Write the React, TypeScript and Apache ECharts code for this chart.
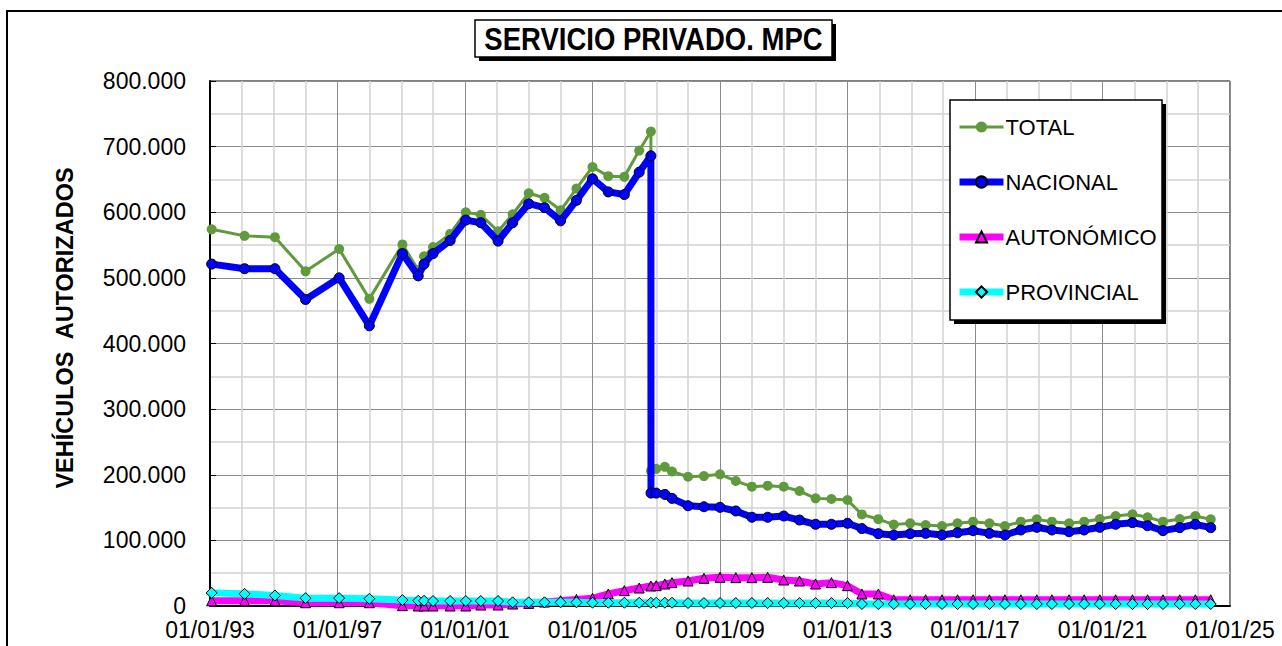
import React, { useEffect, useRef } from "react";
import * as echarts from "echarts";

// Observation dates (x positions)
const DATES: string[] = [
  "1993-01-20", "1994-02-01", "1995-01-15", "1996-01-01", "1997-01-20", "1998-01-01",
  "1999-01-15", "1999-07-15", "1999-09-20", "2000-01-01", "2000-07-15", "2001-01-10",
  "2001-07-01", "2002-01-15", "2002-07-01", "2003-01-01", "2003-07-01", "2004-01-01",
  "2004-07-01", "2005-01-01", "2005-07-01", "2006-01-01", "2006-06-20", "2006-11-01",
  "2006-11-02", "2007-01-01", "2007-04-10", "2007-07-01",
  "2008-01-01", "2008-07-01", "2009-01-01", "2009-07-01", "2010-01-01", "2010-07-01",
  "2011-01-01", "2011-07-01", "2012-01-01", "2012-07-01", "2013-01-01",
  "2013-06-15", "2013-12-20", "2014-06-15", "2014-12-20", "2015-06-15", "2015-12-20",
  "2016-06-15", "2016-12-10", "2017-06-15", "2017-12-10", "2018-06-10", "2018-12-10",
  "2019-06-01", "2019-12-15", "2020-06-05", "2020-12-01", "2021-06-01", "2021-12-10",
  "2022-06-01", "2022-11-25", "2023-06-05", "2023-12-01", "2024-05-25",
];

// Values in thousands of vehicles
const TOTAL: (number | null)[] = [
  574, 564, 562, 510, 544, 468,
  551, 512, 533, 547, 567, 600,
  596, 571, 597, 629, 622, 603,
  636, 669, 655, 654, 694, 723,
  206, 209, 212, 205,
  197, 198, 200.6, 190.5, 181.8, 183.4,
  181.8, 175.2, 164, 163, 161.5,
  139.5, 132.3, 124, 126, 123.4, 121.9,
  126, 128.5, 126, 121.9, 128.5, 132,
  128.5, 126, 128.5, 132.6, 137.1, 139.7,
  135.2, 128.5, 132.6, 137.1, 132,
];

const NACIONAL: (number | null)[] = [
  521, 514, 514, 467, 500, 427,
  537, 503, 521, 537, 557, 588,
  584, 556, 584, 613, 607, 587,
  618, 651, 631, 627, 661, 686,
  172, 172, 170, 164,
  152.8, 151.3, 150.4, 144.8, 135.2, 135.2,
  137.1, 131, 124.5, 124.5, 126,
  118, 110.2, 108.2, 110.2, 110.7, 108.2,
  111.7, 114.8, 110.7, 108.2, 115.8, 119.9,
  115.8, 113.2, 115.8, 119.9, 124.5, 127,
  122.4, 114.8, 119.4, 124.5, 119.4,
];

const AUTONOMICO: (number | null)[] = [
  8, 8, 8, 5, 5, 5,
  0.5, 0, 0, 0, 0, 0,
  1.5, 1.5, 3, 4, 6, 8,
  10, 11.7, 18.3, 23.4, 27.4, 30.5,
  null, 31, 33.5, 35.6,
  38.1, 42.2, 43.7, 43.2, 43.2, 43.7,
  39.6, 38.1, 33.5, 35.6, 31,
  18.3, 18.3, 9.5, 9.5, 9.5, 9.5,
  9.5, 9.5, 9.5, 9.5, 9.5, 9.5,
  9.5, 9.5, 9.5, 9.5, 9.5, 9.5,
  9.5, 9.5, 9.5, 9.5, 9.5,
];

const PROVINCIAL: (number | null)[] = [
  20, 18.5, 16, 12, 12, 11,
  9, 8, 8, 7.6, 7.6, 7.6,
  7.6, 7.6, 5.6, 5.6, 5.6, 5.6,
  5.6, 5, 5, 5, 5, 5,
  null, 5, 5, 5,
  4.5, 4.5, 4.5, 4.5, 4.5, 4.5,
  4.5, 4.5, 4.5, 4.5, 4.5,
  3, 3, 3, 3, 3, 3,
  3, 3, 3, 3, 3, 3,
  3, 3, 3, 3, 3, 3,
  3, 3, 3, 3, 3,
];

const SERIES_NAMES = ["TOTAL", "NACIONAL", "AUTONÓMICO", "PROVINCIAL"];
const START_YEAR = 1993;
const END_YEAR = 2025;
const TITLE = "SERVICIO PRIVADO. MPC";
const Y_NAME = "VEHÍCULOS  AUTORIZADOS";

const FONT = "Arial, 'Liberation Sans', sans-serif";

function yearsSinceStart(d: string): number {
  const [y, m, dd] = d.split("-").map(Number);
  const t = Date.UTC(y, m - 1, dd);
  const t0 = Date.UTC(START_YEAR, 0, 1);
  return (t - t0) / (365.25 * 86400000);
}

function toData(vals: (number | null)[]) {
  const out: [number, number][] = [];
  vals.forEach((v, i) => {
    if (v !== null) out.push([yearsSinceStart(DATES[i]), v * 1000]);
  });
  return out;
}

function fmtThousands(v: number): string {
  if (v === 0) return "0";
  const s = Math.round(v).toString();
  return s.replace(/\B(?=(\d{3})+(?!\d))/g, ".");
}

export default function App() {
  const ref = useRef<HTMLDivElement>(null);
  useEffect(() => {
    if (!ref.current) return;
    const chart = echarts.init(ref.current, undefined, { renderer: "svg" });
    const option: any = {
      animation: false,
      backgroundColor: "#ffffff",
      textStyle: { fontFamily: FONT },
      grid: {
        left: 210,
        right: 52,
        top: 81,
        bottom: 40,
        show: true,
        borderColor: "#000",
        borderWidth: 1,
        backgroundColor: "transparent",
      },
      xAxis: {
        type: "value",
        min: 0,
        max: END_YEAR - START_YEAR,
        interval: 4,
        axisLine: { show: true, onZero: false, lineStyle: { color: "#000", width: 2 } },
        axisTick: { show: false },
        axisLabel: {
          color: "#000",
          fontSize: 23,
          fontFamily: FONT,
          margin: 12,
          formatter: (v: number) =>
            "01/01/" + String((START_YEAR + Math.round(v)) % 100).padStart(2, "0"),
        },
        splitLine: { show: true, lineStyle: { color: "#8c8c8c", width: 1 } },
        minorTick: { show: false, splitNumber: 4 },
        minorSplitLine: { show: true, lineStyle: { color: "#d2d2d2", width: 1.5 } },
      },
      yAxis: {
        type: "value",
        min: 0,
        max: 800000,
        interval: 100000,
        axisLine: { show: true, lineStyle: { color: "#000", width: 2 } },
        axisTick: { show: true, inside: true, length: 6, lineStyle: { color: "#000", width: 1 } },
        axisLabel: {
          color: "#000",
          fontSize: 23,
          fontFamily: FONT,
          margin: 24,
          formatter: (v: number) => fmtThousands(v),
        },
        splitLine: { show: true, lineStyle: { color: "#8c8c8c", width: 1 } },
        minorTick: { show: false, splitNumber: 2 },
        minorSplitLine: { show: true, lineStyle: { color: "#d2d2d2", width: 1.5 } },
      },
      legend: {
        orient: "vertical",
        left: 956,
        top: 116,
        padding: 0,
        itemWidth: 44,
        itemHeight: 14,
        itemGap: 33,
        z: 10,
        textStyle: { color: "#000", fontSize: 22, lineHeight: 22, fontFamily: FONT, padding: [0, 0, 0, -3] },
        data: [
          { name: SERIES_NAMES[0], lineStyle: { width: 3 } },
          { name: SERIES_NAMES[1], lineStyle: { width: 7 } },
          { name: SERIES_NAMES[2], lineStyle: { width: 7 } },
          { name: SERIES_NAMES[3], lineStyle: { width: 7 } },
        ],
      },
      series: [
        {
          name: SERIES_NAMES[0],
          type: "line",
          data: toData(TOTAL),
          symbol: "circle",
          symbolSize: 10,
          lineStyle: { color: "#5f9a3c", width: 3 },
          itemStyle: { color: "#5f9a3c", borderWidth: 0 },
          z: 2,
        },
        {
          name: SERIES_NAMES[1],
          type: "line",
          data: toData(NACIONAL),
          symbol: "circle",
          symbolSize: 10,
          lineStyle: { color: "#0000ff", width: 7 },
          itemStyle: { color: "#0000ff", borderColor: "#000", borderWidth: 1 },
          z: 3,
        },
        {
          name: SERIES_NAMES[2],
          type: "line",
          data: toData(AUTONOMICO),
          symbol: "triangle",
          symbolSize: 10,
          lineStyle: { color: "#ff00ff", width: 7 },
          itemStyle: { color: "#ff00ff", borderColor: "#000", borderWidth: 1 },
          z: 4,
        },
        {
          name: SERIES_NAMES[3],
          type: "line",
          data: toData(PROVINCIAL),
          symbol: "diamond",
          symbolSize: 11,
          lineStyle: { color: "#00ffff", width: 7 },
          itemStyle: { color: "#00ffff", borderColor: "#000", borderWidth: 1 },
          z: 5,
        },
      ],
      graphic: [
        {
          type: "rect",
          z: 0,
          silent: true,
          shape: { x: 7, y: 11, width: 1400, height: 800 },
          style: { fill: "none", stroke: "#000", lineWidth: 2 },
        },
        {
          type: "rect",
          z: 20,
          shape: { x: 479, y: 24, width: 357, height: 37 },
          style: { fill: "#000" },
        },
        {
          type: "rect",
          z: 21,
          shape: { x: 475, y: 20, width: 357, height: 37 },
          style: { fill: "#fff", stroke: "#000", lineWidth: 1.5 },
        },
        {
          type: "text",
          z: 22,
          x: 653.5,
          y: 39,
          scaleX: 0.86,
          style: {
            text: TITLE,
            fill: "#000",
            font: "bold 32px " + FONT,
            textAlign: "center",
            textVerticalAlign: "middle",
          },
        },
        {
          type: "rect",
          z: 6,
          shape: { x: 954, y: 104, width: 212, height: 220 },
          style: { fill: "#000" },
        },
        {
          type: "rect",
          z: 7,
          shape: { x: 950, y: 100, width: 212, height: 220 },
          style: { fill: "#fff", stroke: "#000", lineWidth: 1.5 },
        },
        {
          type: "text",
          z: 22,
          x: 65,
          y: 328,
          rotation: Math.PI / 2,
          style: {
            text: Y_NAME,
            fill: "#000",
            font: "bold 23.5px " + FONT,
            textAlign: "center",
            textVerticalAlign: "middle",
          },
        },
      ],
    };
    chart.setOption(option);
    return () => chart.dispose();
  }, []);
  return (
    <div
      ref={ref}
      style={{ position: "fixed", left: 0, top: 0, width: 1282, height: 646, background: "#fff" }}
    />
  );
}
